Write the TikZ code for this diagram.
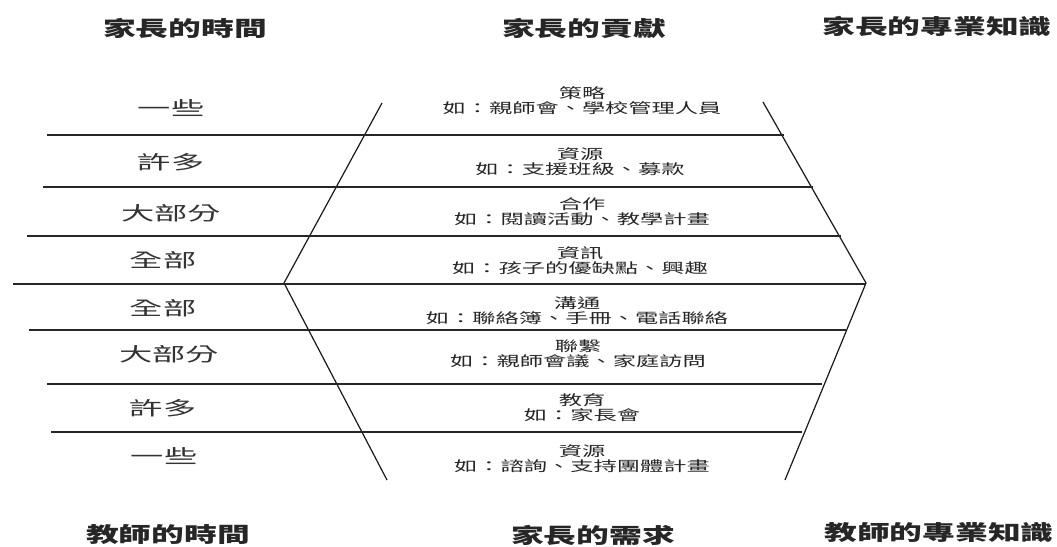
\documentclass[tikz,border=0pt]{standalone}
\usepackage{fontspec}
\usepackage{graphicx}
\newfontfamily\cjk{Noto Sans CJK TC}
\newcommand{\hstr}[2]{\scalebox{#1}[1]{#2}}
\tikzset{
  rule/.style={draw=black!85, line width=1.2pt},
  edge/.style={draw=black!90, line width=1.2pt},
  head/.style={font=\cjk\bfseries\fontsize{21}{24}\selectfont, inner sep=0pt, text=black!85},
  amount/.style={font=\cjk\fontsize{19}{22}\selectfont, inner sep=0pt, text=black!80},
  item/.style={font=\cjk\fontsize{14}{16}\selectfont, inner sep=0pt, text=black!85, align=center},
}
\begin{document}
\begin{tikzpicture}[x=1pt, y=-1pt]
\useasboundingbox (0,0) rectangle (1057,546);
% headers
\node[head] (h1) at (185,28) {\hstr{1.56}{家長的時間}};
\node[head] (h2) at (584,28) {\hstr{1.56}{家長的貢獻}};
\node[head] (h3) at (937,26) {\hstr{1.56}{家長的專業知識}};
\node[head] (f1) at (168,535) {\hstr{1.56}{教師的時間}};
\node[head] (f2) at (593,535) {\hstr{1.56}{家長的需求}};
\node[head] (f3) at (939,533) {\hstr{1.56}{教師的專業知識}};
% diagonals
\coordinate (lt) at (382,103);
\coordinate (lv) at (284,283);
\coordinate (lb) at (387,480);
\coordinate (rt) at (763,102);
\coordinate (rv) at (866,283);
\coordinate (rb) at (785,480);
\draw[edge] (lt) -- (lv) -- (lb);
\draw[edge] (rt) -- (rv) -- (rb);
% horizontal rules
\coordinate (a1) at (47,135);  \coordinate (b1) at (784,135);
\coordinate (a2) at (43,187);  \coordinate (b2) at (813,187);
\coordinate (a3) at (27,236);  \coordinate (b3) at (841,236);
\coordinate (a4) at (13,284);  \coordinate (b4) at (866,284);
\coordinate (a5) at (29,330);  \coordinate (b5) at (846,330);
\coordinate (a6) at (47,384);  \coordinate (b6) at (822,384);
\coordinate (a7) at (51,432);  \coordinate (b7) at (802,432);
\foreach \i in {1,...,7} {\draw[rule] (a\i) -- (b\i);}
% left amounts
\node[amount] (t1) at (171,108) {\hstr{1.75}{一些}};
\node[amount] (t2) at (171,162) {\hstr{1.75}{許多}};
\node[amount] (t3) at (171,213) {\hstr{1.75}{大部分}};
\node[amount] (t4) at (163,260) {\hstr{1.75}{全部}};
\node[amount] (t5) at (163,308) {\hstr{1.75}{全部}};
\node[amount] (t6) at (169,354) {\hstr{1.75}{大部分}};
\node[amount] (t7) at (163,408) {\hstr{1.75}{許多}};
\node[amount] (t8) at (164,456) {\hstr{1.75}{一些}};
% center items
\node[item] (c1) at (582,101) {\hstr{1.66}{策略}\\[-1pt]\hstr{1.66}{如：親師會、學校管理人員}};
\node[item] (c2) at (580,162) {\hstr{1.66}{資源}\\[-1pt]\hstr{1.66}{如：支援班級、募款}};
\node[item] (c3) at (582,212) {\hstr{1.66}{合作}\\[-1pt]\hstr{1.66}{如：閱讀活動、教學計畫}};
\node[item] (c4) at (580,261) {\hstr{1.66}{資訊}\\[-1pt]\hstr{1.66}{如：孩子的優缺點、興趣}};
\node[item] (c5) at (577,311) {\hstr{1.66}{溝通}\\[-1pt]\hstr{1.66}{如：聯絡簿、手冊、電話聯絡}};
\node[item] (c6) at (578,354) {\hstr{1.66}{聯繫}\\[-1pt]\hstr{1.66}{如：親師會議、家庭訪問}};
\node[item] (c7) at (582,408) {\hstr{1.66}{教育}\\[-1pt]\hstr{1.66}{如：家長會}};
\node[item] (c8) at (582,459) {\hstr{1.66}{資源}\\[-1pt]\hstr{1.66}{如：諮詢、支持團體計畫}};
\end{tikzpicture}
\end{document}
